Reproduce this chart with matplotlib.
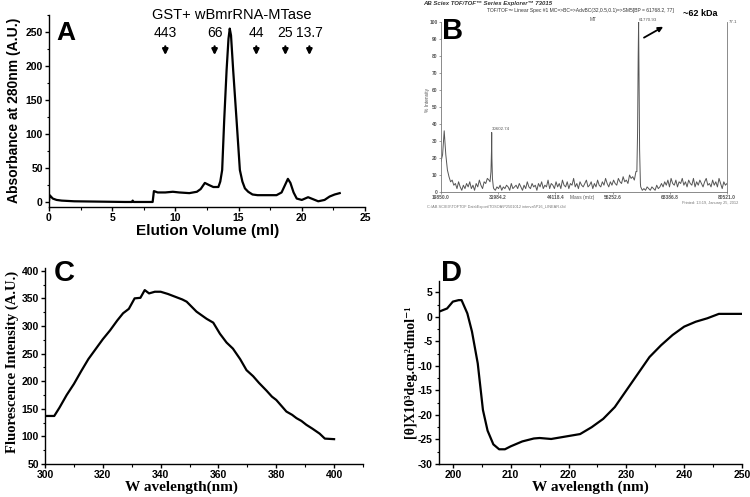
import matplotlib
matplotlib.use("Agg")
import matplotlib.pyplot as plt
import numpy as np
from matplotlib.ticker import MultipleLocator

# ---- panel A : gel filtration ----
a_vol = [0.0, 0.05, 0.15, 0.3, 0.6, 1.0, 2.0, 4.0, 6.0, 6.55, 6.62, 6.7, 8.2, 8.3, 8.6, 9.2,
         9.8, 10.3, 11.1, 11.7, 12.0, 12.33, 12.65, 13.0, 13.4, 13.55, 13.7, 13.86, 14.05, 14.2,
         14.3, 14.4, 14.57, 14.84, 15.1, 15.3, 15.5, 15.76, 16.1, 16.5, 18.0, 18.4, 18.7, 18.9,
         19.1, 19.35, 19.6, 20.0, 20.5, 20.9, 21.3, 21.8, 22.2, 22.6, 23.0]
a_abs = [2, 10, 8, 5, 3, 2, 1, 0.5, 0, 0, 2, 0, 0, 16, 14, 14, 15, 14, 13, 15, 19, 28, 25, 22, 22,
         30, 47, 120, 194, 240, 255, 245, 194, 120, 47, 30, 20, 15, 11, 10, 10, 14, 26, 34,
         28, 14, 5, 3, 7, 4, 1, 3, 8, 11, 13]
std_labels = ["443", "66", "44", "25", "13.7"]
std_vol = [9.2, 13.1, 16.4, 18.7, 20.6]

# ---- panel B : MALDI spectrum ----
b_noise = [18, 22, 36, 22, 13, 9, 6, 7, 4, 5,
           2, 6, 3, 1, 4, 2, 5, 3, 6, 2,
           4, 1, 5, 3, 7, 4, 2, 6, 5, 8,
           7, 5, 5, 2, 1, 3, 2, 4, 1, 3,
           2, 4, 3, 1, 5, 2, 3, 4, 2, 5,
           3, 1, 4, 2, 6, 3, 2, 5, 3, 4,
           1, 5, 3, 6, 2, 4, 3, 7, 2, 5,
           4, 2, 6, 3, 5, 2, 7, 4, 3, 6,
           2, 5, 4, 8, 3, 5, 2, 6, 4, 3,
           5, 7, 3, 4, 6, 2, 5, 3, 7, 4,
           3, 6, 4, 8, 5, 3, 6, 4, 7, 5,
           4, 8, 6, 5, 9, 6, 7, 5, 10, 8,
           9, 7, 12, 10, 10, 3, 1, 2, 1, 3,
           2, 1, 3, 2, 1, 4, 2, 3, 5, 3,
           6, 4, 7, 3, 8, 5, 4, 7, 3, 6,
           5, 8, 4, 6, 3, 7, 5, 4, 8, 3,
           6, 4, 7, 5, 3, 6, 8, 4, 5, 3,
           7, 4, 6, 3, 8, 5, 2, 6, 4, 5]
b_peak_mass = [30250, 30450, 30560, 30602, 30650, 30760, 30950,
               61400, 61550, 61680, 61770, 61860, 61980, 62150]
b_peak_int = [6, 12, 24, 35, 20, 8, 3,
              12, 35, 80, 100, 70, 25, 5]
b_mass_min, b_mass_max = 19850.0, 80521.0
b_tick_labels = ["19850.0", "31984.2", "44118.4", "56252.6", "68386.8", "80521.0"]

# ---- panel C : fluorescence ----
c_wl = [300, 303.2, 305, 307.5, 310, 312.5, 315, 317.5, 320, 322.5, 325, 327, 329, 331, 333,
        334.5, 336, 338, 340, 342.5, 345.5, 347.5, 349, 352.4, 355.9, 358.2, 360.5, 362.8, 365,
        367.5, 369.7, 372, 374, 376.6, 378.5, 380, 382, 383.5, 385.5, 387, 388.7, 390.4, 392.5,
        395, 396.8, 400]
c_int = [137, 137, 152, 175, 195, 218, 240, 258, 276, 292, 310, 323, 331, 350, 351,
         365, 359, 362, 362, 358, 352, 348, 344, 326, 313, 306, 286, 270, 259,
         240, 220, 209, 197, 183, 172, 166, 154, 145, 139, 133, 128, 121, 114,
         105, 96, 95]

# ---- panel D : CD spectrum ----
d_wl = [197.5, 199, 200, 201, 201.5, 202.5, 203.3, 204.3, 205.2, 206, 207, 208, 209, 210, 212,
        214, 215, 217, 219, 220, 222, 224, 226, 228, 230, 232, 234, 236, 238, 240, 242, 244,
        246, 250]
d_theta = [1.0, 1.7, 3.1, 3.4, 3.4, 0.7, -3.0, -9.5, -19.0, -23.2, -26.0, -27.0, -27.0, -26.4,
           -25.4, -24.8, -24.7, -24.9, -24.5, -24.3, -23.9, -22.5, -20.8, -18.4, -15.0, -11.6,
           -8.2, -5.8, -3.7, -2.0, -1.0, -0.3, 0.6, 0.6]

W, H = 750, 497


def box(l, t, r, b):
    return [l / W, 1 - b / H, (r - l) / W, (b - t) / H]


def ftxt(x, y, s, **kw):
    fig.text(x / W, 1 - y / H, s, **kw)


plt.rcParams['font.family'] = ['Liberation Sans', 'DejaVu Sans']
plt.rcParams['axes.unicode_minus'] = False
serif = ['Liberation Serif', 'DejaVu Serif']
fig = plt.figure(figsize=(7.5, 4.97), dpi=100)

# ===== A =====
ax = fig.add_axes(box(49, 15, 365, 207))
ax.plot(a_vol, a_abs, color='black', lw=1.6)
ax.set_xlim(0, 25)
ax.set_ylim(-7.4, 275)
ax.xaxis.set_major_locator(MultipleLocator(5))
ax.xaxis.set_minor_locator(MultipleLocator(2.5))
ax.yaxis.set_minor_locator(MultipleLocator(25))
ax.set_yticks(range(0, 251, 50))
for s in ['top', 'right']:
    ax.spines[s].set_visible(False)
for s in ['left', 'bottom']:
    ax.spines[s].set_linewidth(1.0)
ax.tick_params(labelsize=7.5, width=1, length=3, pad=1.5)
ax.tick_params(which='minor', width=0.8, length=1.8)
plt.setp(ax.get_xticklabels() + ax.get_yticklabels(), fontweight='bold')
for lab, v in zip(std_labels, std_vol):
    ax.annotate('', xy=(v, 212), xytext=(v, 233),
                arrowprops=dict(arrowstyle='-|>', color='black', lw=1.6, mutation_scale=8))
    ax.text(v, 238, lab, ha='center', va='bottom', fontsize=10)
ftxt(232, 15, "GST+ wBmrRNA-MTase", ha='center', va='center', fontsize=10.5)
ftxt(56, 33, "A", ha='left', va='center', fontsize=19, fontweight='bold')
ftxt(208, 231, "Elution Volume (ml)", ha='center', va='center', fontsize=11, fontweight='bold')
ftxt(14, 110, "Absorbance at 280nm (A.U.)", ha='center', va='center', rotation=90,
     fontsize=10, fontweight='bold')

# ===== B =====
bx = fig.add_axes(box(441, 22, 727, 192))
b_mass = np.linspace(b_mass_min, b_mass_max, len(b_noise))
keep = np.ones(len(b_mass), bool)
for pm in (30602, 61770):
    keep &= np.abs(b_mass - pm) > 400
mass = np.concatenate([b_mass[keep], b_peak_mass])
inten = np.concatenate([np.array(b_noise, float)[keep], b_peak_int])
order = np.argsort(mass)
bx.plot(mass[order], inten[order], color='#555555', lw=0.7)
bx.set_xlim(b_mass_min, b_mass_max)
bx.set_ylim(0, 100)
bx.set_xticks(np.linspace(b_mass_min, b_mass_max, len(b_tick_labels)))
bx.set_xticklabels(b_tick_labels)
bx.set_yticks(range(0, 101, 10))
bx.spines['top'].set_visible(False)
for s in ['left', 'bottom', 'right']:
    bx.spines[s].set_linewidth(0.6)
    bx.spines[s].set_color('#777777')
bx.tick_params(labelsize=3.5, width=0.4, length=1.5, colors='#555555', pad=1)
plt.setp(bx.get_xticklabels() + bx.get_yticklabels(), fontweight='bold')
bx.text(30700, 36, "30602.74", fontsize=3.2, color='#555555', va='bottom')
bx.text(61850, 100, "61770.93", fontsize=3.2, color='#555555', va='bottom')
bx.text(51400, 100, "MT", fontsize=3.5, color='#555555', va='bottom')
bx.text(80900, 100, "77.1", fontsize=3.2, color='#555555', va='center')
bx.annotate('', xy=(67500, 98), xytext=(62400, 90),
            arrowprops=dict(arrowstyle='-|>', color='black', lw=1.3, mutation_scale=7))
ftxt(683, 13, "~62 kDa", ha='left', va='center', fontsize=6.5, fontweight='bold')
ftxt(423, 4, "AB Sciex TOF/TOF\u2122 Series Explorer\u2122 73015", ha='left', va='center',
     fontsize=4.3, fontweight='bold', style='italic', color='#333333')
ftxt(487, 10.5, "TOF/TOF\u2122 Linear Spec #1 MC=>BC=>AdvBC(32,0.5,0.1)=>SM5[BP = 61768.2, 77]",
     ha='left', va='center', fontsize=3.6, color='#333333')
ftxt(442, 31, "B", ha='left', va='center', fontsize=21, fontweight='bold')
ftxt(428, 100, "% Intensity", ha='center', va='center', rotation=90, fontsize=3.5, color='#555555')
ftxt(582, 198, "Mass (m/z)", ha='center', va='center', fontsize=3.5, color='#555555')
ftxt(427, 207, "C:\\AB SCIEX\\TOFTOF Data\\Export\\TOSOA\\P2501012 interval\\P16_LINEAR.t2d",
     ha='left', va='center', fontsize=2.8, color='#777777')
ftxt(738, 203, "Printed: 13:19, January 25, 2012", ha='right', va='center', fontsize=2.8,
     color='#777777')

# ===== C and D =====
for spec in ['C', 'D']:
    if spec == 'C':
        cx = fig.add_axes(box(45, 268, 363, 464))
        cx.plot(c_wl, c_int, color='black', lw=1.6)
        cx.set_xlim(300, 410)
        cx.set_ylim(50, 405)
        cx.xaxis.set_major_locator(MultipleLocator(20))
        cx.xaxis.set_minor_locator(MultipleLocator(10))
        cx.yaxis.set_major_locator(MultipleLocator(50))
        cx.yaxis.set_minor_locator(MultipleLocator(25))
    else:
        cx = fig.add_axes(box(439, 281, 742, 464))
        cx.plot(d_wl, d_theta, color='black', lw=1.6)
        cx.set_xlim(197.6, 250)
        cx.set_ylim(-30, 7.3)
        cx.xaxis.set_major_locator(MultipleLocator(10))
        cx.xaxis.set_minor_locator(MultipleLocator(5))
        cx.yaxis.set_major_locator(MultipleLocator(5))
        cx.yaxis.set_minor_locator(MultipleLocator(2.5))
    for s in ['top', 'right']:
        cx.spines[s].set_visible(False)
    for s in ['left', 'bottom']:
        cx.spines[s].set_linewidth(1.0)
    cx.tick_params(labelsize=7.5, width=1, length=3, pad=1.5)
    cx.tick_params(which='minor', width=0.8, length=1.8)
    plt.setp(cx.get_xticklabels() + cx.get_yticklabels(), fontweight='bold')

ftxt(54, 273, "C", ha='left', va='center', fontsize=21, fontweight='bold')
ftxt(441, 273, "D", ha='left', va='center', fontsize=21, fontweight='bold')
ftxt(181, 487, "W avelength(nm)", ha='center', va='center', fontsize=11, fontweight='bold',
     family=serif)
ftxt(590, 487, "W avelength (nm)", ha='center', va='center', fontsize=11, fontweight='bold',
     family=serif)
ftxt(12, 362, "Fluorescence Intensity (A.U.)", ha='center', va='center', rotation=90,
     fontsize=10.5, fontweight='bold', family=serif)
ftxt(410, 372, "[\u03b8]X10\u00b3deg.cm\u00b2dmol\u207b\u00b9", ha='center', va='center',
     rotation=90, fontsize=10, fontweight='bold', family=serif)

fig.savefig("out.png", dpi=100)
